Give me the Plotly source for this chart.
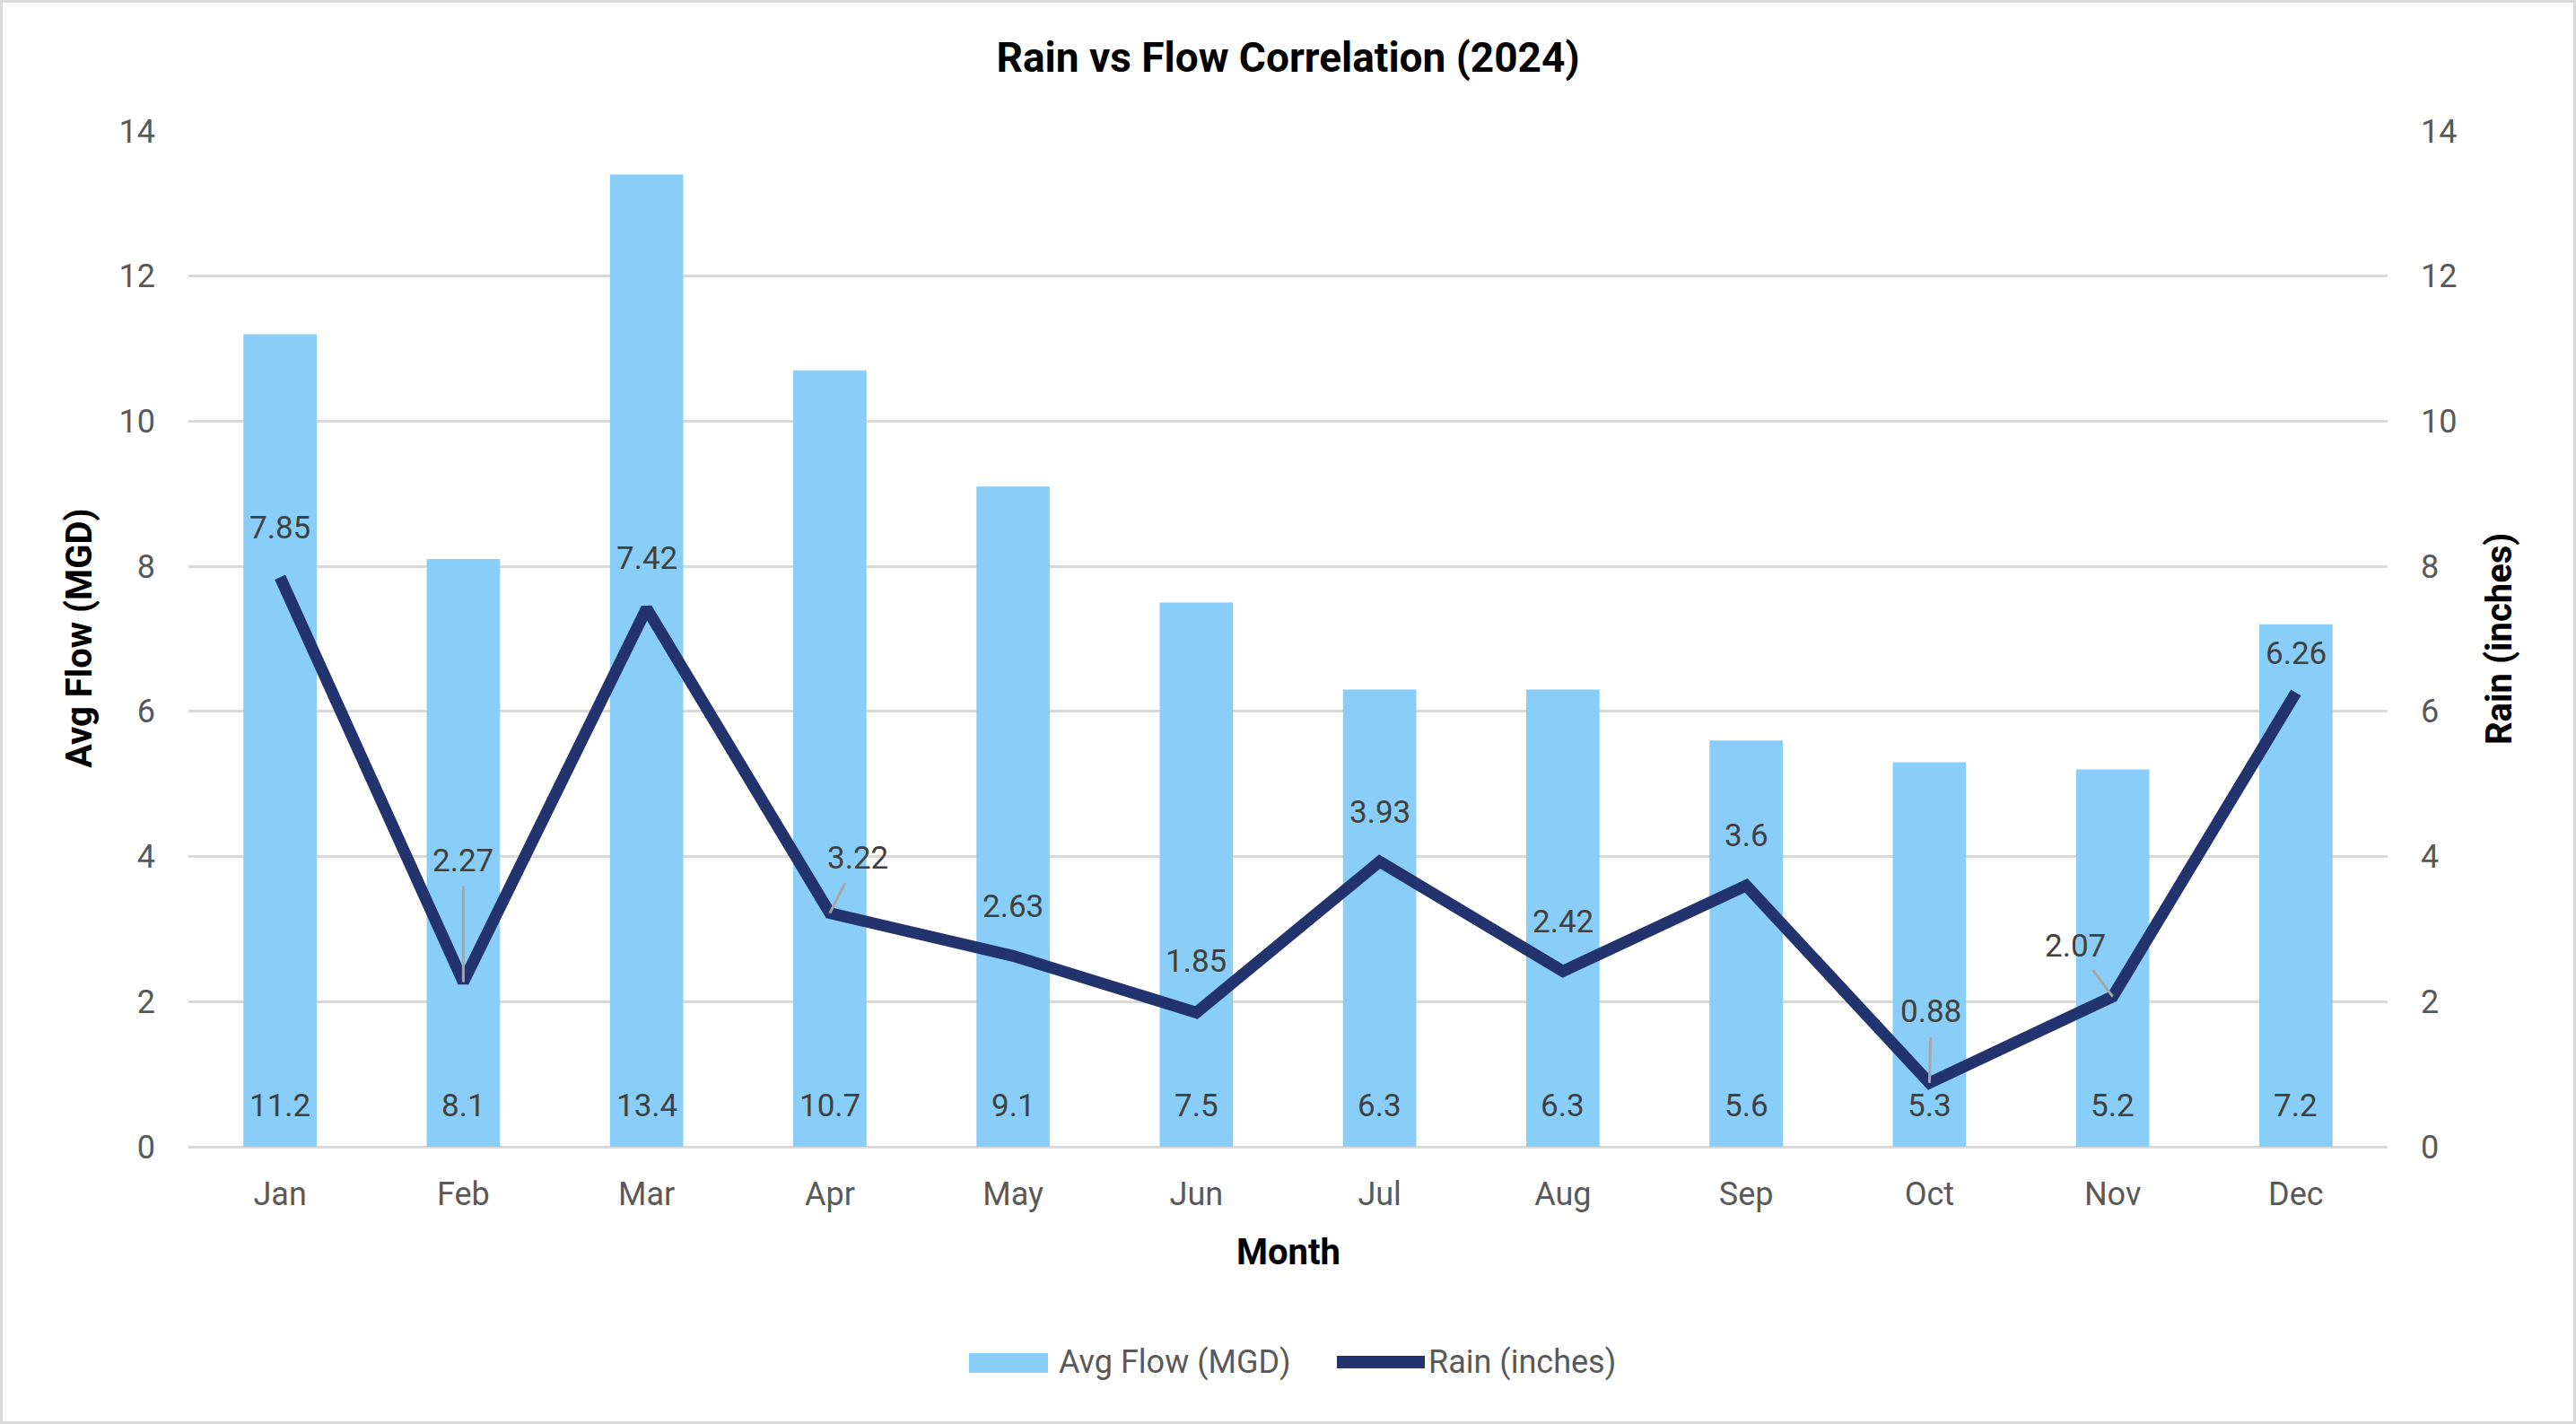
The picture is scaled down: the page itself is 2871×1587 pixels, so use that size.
import plotly.graph_objects as go

months = ["Jan", "Feb", "Mar", "Apr", "May", "Jun", "Jul", "Aug", "Sep", "Oct", "Nov", "Dec"]
avg_flow = [11.2, 8.1, 13.4, 10.7, 9.1, 7.5, 6.3, 6.3, 5.6, 5.3, 5.2, 7.2]
rain = [7.85, 2.27, 7.42, 3.22, 2.63, 1.85, 3.93, 2.42, 3.6, 0.88, 2.07, 6.26]
y_ticks = [0, 2, 4, 6, 8, 10, 12, 14]
series_names = ["Avg Flow (MGD)", "Rain (inches)"]

# label placement (pixel offsets of each rain label from its point) and leader-line flags
rain_label_dx = [0, 0, 0, 31, 0, 0, 0, 0, 0, 2, -42, 0]
rain_label_dy = [-55, -135, -56, -61, -55, -57, -55, -55, -55, -79, -56, -43]
rain_leader = [False, True, False, True, False, False, False, False, False, True, True, False]

W, H = 2871, 1587
ML, MR, MT, MB = 210, 210, 146, 309
PW, PH = W - ML - MR, H - MT - MB


def px_x(px):
    return (px - ML) / PW


def px_y(py):
    return (MT + PH - py) / PH


BAR_COLOR = "#89CEF9"
LINE_COLOR = "#22336E"
GRID = "#D9D9D9"
TICK_COLOR = "#595959"
LABEL_COLOR = "#404040"
FONT = "Roboto"

fig = go.Figure()
fig.add_trace(go.Bar(
    x=months, y=avg_flow, name=series_names[0],
    marker=dict(color=BAR_COLOR, line=dict(width=0)),
    width=0.4, yaxis="y", showlegend=False,
))
fig.add_trace(go.Scatter(
    x=months, y=rain, name=series_names[1], mode="lines",
    line=dict(color=LINE_COLOR, width=13),
    yaxis="y2", showlegend=False,
))

annotations = []
# bar value labels near the base
for m, v in zip(months, avg_flow):
    annotations.append(dict(
        x=m, y=0, xref="x", yref="y", text=f"{v:g}", showarrow=False,
        yanchor="middle", yshift=46, font=dict(family=FONT, size=35, color=LABEL_COLOR),
    ))
# rain labels
for m, v, dx, dy, lead in zip(months, rain, rain_label_dx, rain_label_dy, rain_leader):
    if lead:
        annotations.append(dict(
            x=m, y=v, xref="x", yref="y2", text=f"{v:g}", showarrow=True,
            ax=dx, ay=dy, axref="pixel", ayref="pixel",
            arrowhead=0, arrowwidth=3, arrowcolor="#A6A6A6",
            standoff=0, startstandoff=6,
            font=dict(family=FONT, size=35, color=LABEL_COLOR),
        ))
    else:
        annotations.append(dict(
            x=m, y=v, xref="x", yref="y2", text=f"{v:g}", showarrow=False,
            xanchor="center", yanchor="middle", xshift=dx, yshift=-dy,
            font=dict(family=FONT, size=35, color=LABEL_COLOR),
        ))

# axis titles
annotations.append(dict(
    x=0, y=0.5, xref="paper", yref="paper", text="Avg Flow (MGD)",
    showarrow=False, textangle=-90, xshift=-122, xanchor="center", yanchor="middle",
    font=dict(family=FONT, size=40, color="#000000", weight="bold"),
))
annotations.append(dict(
    x=1, y=0.5, xref="paper", yref="paper", text="Rain (inches)",
    showarrow=False, textangle=-90, xshift=124, xanchor="center", yanchor="middle",
    font=dict(family=FONT, size=40, color="#000000", weight="bold"),
))
annotations.append(dict(
    x=0.5, y=0, xref="paper", yref="paper", text="Month",
    showarrow=False, yshift=-117, xanchor="center", yanchor="middle",
    font=dict(family=FONT, size=40, color="#000000", weight="bold"),
))

# custom legend (larger swatches, like the original)
annotations.append(dict(
    x=px_x(1178), y=px_y(1518), xref="paper", yref="paper", text=series_names[0],
    showarrow=False, xanchor="left", yanchor="middle",
    font=dict(family=FONT, size=36, color=TICK_COLOR),
))
annotations.append(dict(
    x=px_x(1590), y=px_y(1518), xref="paper", yref="paper", text=series_names[1],
    showarrow=False, xanchor="left", yanchor="middle",
    font=dict(family=FONT, size=36, color=TICK_COLOR),
))

shapes = [
    dict(
        type="rect", xref="paper", yref="paper",
        x0=px_x(1.5), x1=px_x(W - 1.5), y0=px_y(H - 1.5), y1=px_y(1.5),
        line=dict(color=GRID, width=3), fillcolor="rgba(0,0,0,0)", layer="below",
    ),
    dict(
        type="rect", xref="paper", yref="paper",
        x0=px_x(1080), x1=px_x(1168), y0=px_y(1530), y1=px_y(1508),
        line=dict(width=0), fillcolor=BAR_COLOR,
    ),
    dict(
        type="line", xref="paper", yref="paper",
        x0=px_x(1490), x1=px_x(1588), y0=px_y(1518), y1=px_y(1518),
        line=dict(color=LINE_COLOR, width=14),
    ),
]

fig.update_layout(
    width=W, height=H,
    margin=dict(l=ML, r=MR, t=MT, b=MB, pad=0),
    paper_bgcolor="white", plot_bgcolor="white",
    title=dict(
        text="Rain vs Flow Correlation (2024)", x=0.5, xanchor="center",
        y=1 - 64 / H, yanchor="middle", yref="container",
        font=dict(family=FONT, size=46, color="#000000", weight="bold"),
    ),
    xaxis=dict(
        showgrid=False, showline=False, zeroline=False,
        tickfont=dict(family=FONT, size=36, color=TICK_COLOR),
        ticklabelstandoff=28,
    ),
    yaxis=dict(
        range=[0, 14], tickvals=y_ticks, showgrid=True, gridcolor=GRID, gridwidth=3,
        zeroline=True, zerolinecolor=GRID, zerolinewidth=3, showline=False,
        tickfont=dict(family=FONT, size=36, color=TICK_COLOR),
        ticklabelstandoff=36,
    ),
    yaxis2=dict(
        range=[0, 14], tickvals=y_ticks, overlaying="y", side="right",
        showgrid=False, zeroline=False, showline=False,
        tickfont=dict(family=FONT, size=36, color=TICK_COLOR),
        ticklabelstandoff=36,
    ),
    annotations=annotations,
    shapes=shapes,
    showlegend=False,
)

fig.write_html(
    "out.html",
    config={"displayModeBar": False},
    post_script="document.body.style.margin='0px';document.body.style.overflow='hidden';",
)
